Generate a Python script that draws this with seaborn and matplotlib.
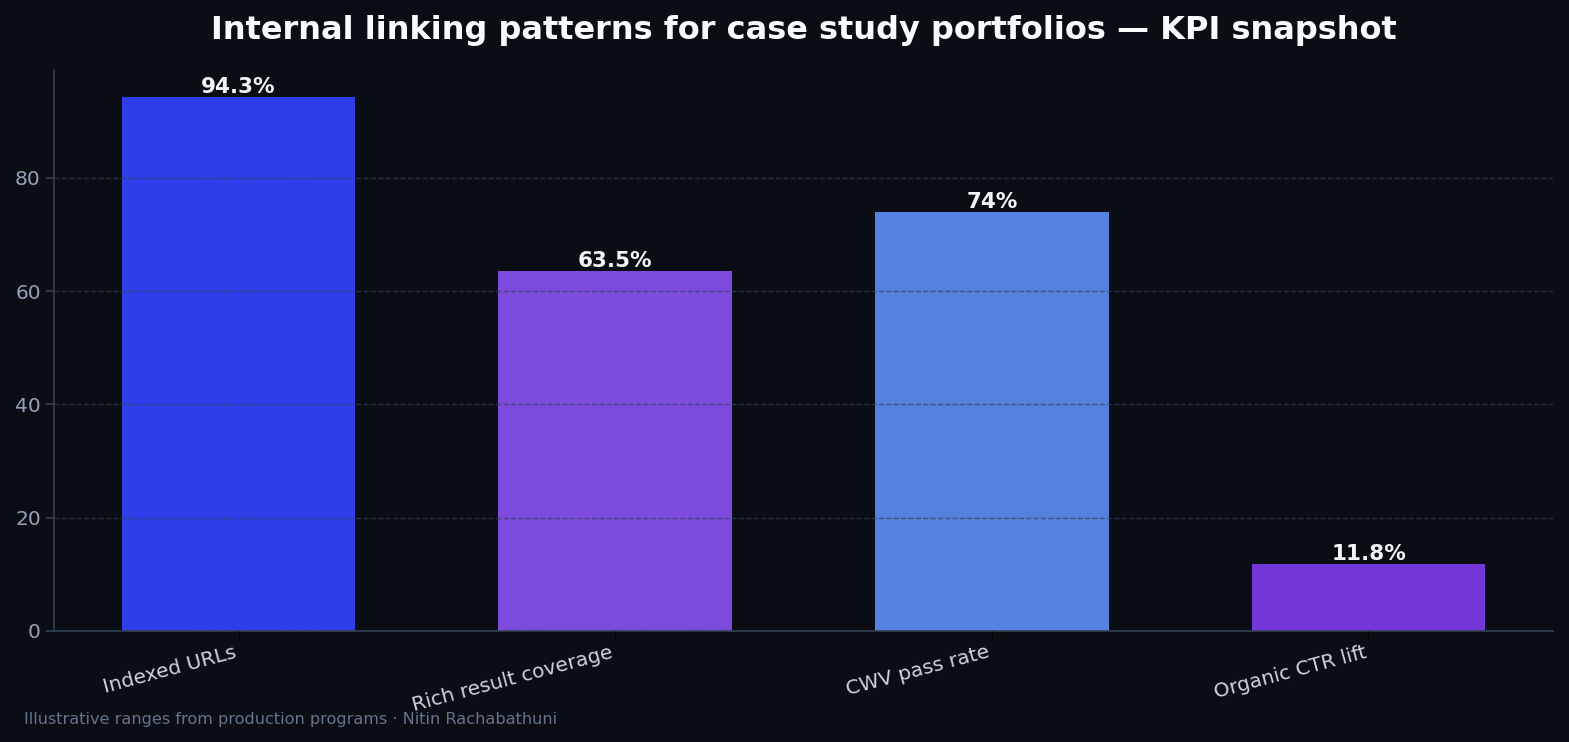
import matplotlib
matplotlib.use("Agg")
import matplotlib.pyplot as plt
import pandas as pd
import seaborn as sns

categories = ["Indexed URLs", "Rich result coverage", "CWV pass rate", "Organic CTR lift"]
values = [94.3, 63.5, 74.0, 11.8]
labels = ["94.3%", "63.5%", "74%", "11.8%"]
colors = ["#2E3FEA", "#7E4CDC", "#5582DE", "#7436D8"]

bg = "#0A0D14"
sns.set_theme(style="dark")
plt.rcParams["font.family"] = ["DejaVu Sans"]

df = pd.DataFrame({"metric": categories, "value": values})

fig = plt.figure(figsize=(15.69, 7.42), dpi=100, facecolor=bg)
ax = fig.add_subplot(111)
ax.set_facecolor(bg)
fig.subplots_adjust(left=0.0344, right=0.9898, top=0.9057, bottom=0.1496)

sns.barplot(data=df, x="metric", y="value", hue="metric", palette=colors,
            width=0.62, legend=False, saturation=1, linewidth=0, ax=ax)

for bar, lab in zip(ax.patches, labels):
    ax.annotate(lab, (bar.get_x() + bar.get_width() / 2, bar.get_height()),
                ha="center", va="bottom", fontsize=15.5, fontweight="bold",
                color="#F3F4F6", xytext=(0, 0), textcoords="offset points")

ax.set_ylim(0, max(values) * 1.05)
ax.set_xlim(-0.49, 3.49)
ax.set_title("Internal linking patterns for case study portfolios — KPI snapshot",
             fontsize=23, fontweight="bold", color="#F8FAFC", pad=22)
ax.set_xlabel("")
ax.set_ylabel("")

ax.grid(axis="y", color="#334155", linestyle="--", linewidth=1, alpha=0.7)
ax.grid(axis="x", visible=False)
ax.set_axisbelow(False)

for s in ["top", "right"]:
    ax.spines[s].set_visible(False)
for s in ["left", "bottom"]:
    ax.spines[s].set_color("#334155")
    ax.spines[s].set_linewidth(1.2)

ax.tick_params(axis="y", colors="#334155", labelcolor="#94A3B8", labelsize=14.5,
               left=True, length=6, width=1.2)
ax.tick_params(axis="x", colors="#000000", labelcolor="#CBD5E1", labelsize=14.5,
               bottom=True, length=5, width=1)
ax.set_yticks([0, 20, 40, 60, 80])
plt.setp(ax.get_xticklabels(), rotation=15, ha="right")

fig.text(0.015, 0.02, "Illustrative ranges from production programs · Nitin Rachabathuni",
         fontsize=11.6, color="#64748B", ha="left", va="bottom")

fig.savefig("out.png", dpi=100, facecolor=bg)
